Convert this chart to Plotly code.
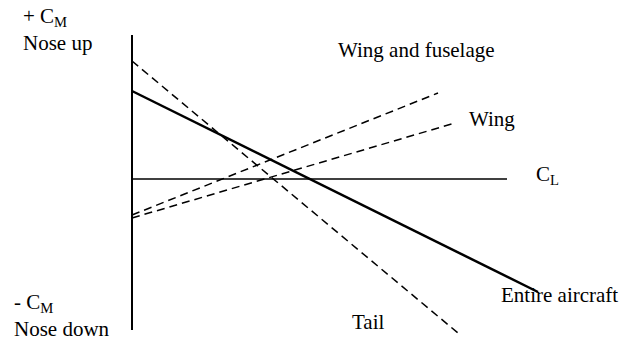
import plotly.graph_objects as go

# Data (CL along x, CM along y)
entire_cl = [0.0, 4.06]
entire_cm = [0.88, -1.13]
tail_cl = [0.0, 3.26]
tail_cm = [1.18, -1.54]
wingfus_cl = [0.0, 3.06]
wingfus_cm = [-0.36, 0.86]
wing_cl = [0.0, 3.23]
wing_cm = [-0.39, 0.56]
cm_axis_cl = [0.0, 0.0]
cm_axis_cm = [-1.51, 1.44]
cl_axis_cl = [0.0, 3.75]
cl_axis_cm = [0.0, 0.0]

FONT = "Liberation Serif"
fig = go.Figure()
fig.add_trace(go.Scatter(x=cm_axis_cl, y=cm_axis_cm, mode="lines",
                         line=dict(color="black", width=2), hoverinfo="skip"))
fig.add_trace(go.Scatter(x=cl_axis_cl, y=cl_axis_cm, mode="lines",
                         line=dict(color="black", width=1.5), hoverinfo="skip"))
fig.add_trace(go.Scatter(x=entire_cl, y=entire_cm, mode="lines",
                         line=dict(color="black", width=2.5), name="Entire aircraft"))
fig.add_trace(go.Scatter(x=tail_cl, y=tail_cm, mode="lines",
                         line=dict(color="black", width=1.5, dash="8px,5px"), name="Tail"))
fig.add_trace(go.Scatter(x=wingfus_cl, y=wingfus_cm, mode="lines",
                         line=dict(color="black", width=1.5, dash="8px,5px"), name="Wing and fuselage"))
fig.add_trace(go.Scatter(x=wing_cl, y=wing_cm, mode="lines",
                         line=dict(color="black", width=1.5, dash="8px,5px"), name="Wing"))

def lab(text, x, y):
    fig.add_annotation(x=x, y=y, text=text, showarrow=False, xanchor="left",
                       yanchor="middle", align="left",
                       font=dict(family=FONT, size=21, color="black"),
                       borderpad=0)

lab("+ C<sub>M</sub><br>Nose up", -1.10, 1.50)
lab("- C<sub>M</sub><br>Nose down", -1.19, -1.36)
lab("Wing and fuselage", 2.05, 1.29)
lab("Wing", 3.36, 0.60)
lab("C<sub>L</sub>", 4.03, 0.04)
lab("Entire aircraft", 3.68, -1.16)
lab("Tail", 2.19, -1.43)

fig.update_layout(
    width=631, height=341, margin=dict(l=0, r=0, t=0, b=0),
    paper_bgcolor="white", plot_bgcolor="white", showlegend=False,
    xaxis=dict(range=[-1.24, 5.07], visible=False, fixedrange=True),
    yaxis=dict(range=[-1.70, 1.71], visible=False, fixedrange=True),
)
fig.write_html("out.html")
